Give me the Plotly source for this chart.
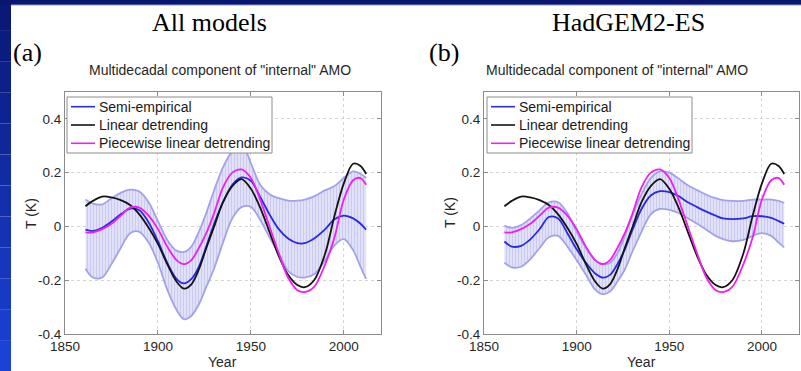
import plotly.graph_objects as go

# ---------------- data ----------------
years = [1861, 1865, 1870, 1875, 1880, 1885, 1890, 1895, 1900, 1905, 1910, 1914,
         1918, 1922, 1926, 1930, 1935, 1940, 1945, 1950, 1955, 1960, 1965, 1970,
         1975, 1979, 1984, 1990, 1995, 2000, 2005, 2009, 2012]

linear_detrending = [0.075, 0.095, 0.111, 0.108, 0.098, 0.080, 0.045, -0.005, -0.065, -0.140,
                     -0.205, -0.231, -0.215, -0.160, -0.080, -0.005, 0.090, 0.150, 0.176, 0.140,
                     0.070, -0.020, -0.110, -0.180, -0.218, -0.226, -0.200, -0.100, 0.040, 0.160,
                     0.233, 0.225, 0.195]

piecewise_detrending = [-0.022, -0.022, -0.010, 0.010, 0.040, 0.070, 0.070, 0.040, -0.010, -0.075,
                        -0.125, -0.140, -0.125, -0.080, -0.025, 0.045, 0.145, 0.200, 0.212, 0.180,
                        0.100, 0.000, -0.100, -0.190, -0.237, -0.244, -0.225, -0.140, -0.040, 0.100,
                        0.172, 0.180, 0.155]

semi_all = [-0.012, -0.017, -0.005, 0.018, 0.045, 0.066, 0.060, 0.015, -0.055, -0.135,
            -0.195, -0.212, -0.195, -0.150, -0.075, 0.005, 0.090, 0.155, 0.182, 0.170,
            0.110, 0.045, -0.010, -0.045, -0.062, -0.062, -0.045, -0.010, 0.027, 0.040,
            0.030, 0.010, -0.012]
semi_all_upper = [0.100, 0.085, 0.082, 0.105, 0.125, 0.137, 0.130, 0.090, 0.020, -0.050,
                  -0.090, -0.095, -0.075, -0.020, 0.050, 0.130, 0.220, 0.280, 0.310, 0.235,
                  0.155, 0.120, 0.105, 0.096, 0.096, 0.100, 0.112, 0.135, 0.150, 0.180,
                  0.205, 0.195, 0.180]
semi_all_lower = [-0.157, -0.190, -0.190, -0.140, -0.080, -0.025, -0.020, -0.060, -0.135, -0.235,
                  -0.310, -0.345, -0.332, -0.290, -0.225, -0.160, -0.060, 0.030, 0.072, 0.073,
                  0.025, -0.040, -0.100, -0.165, -0.188, -0.190, -0.178, -0.125, -0.070, -0.047,
                  -0.088, -0.150, -0.195]

semi_had = [-0.056, -0.075, -0.072, -0.048, -0.010, 0.035, 0.030, -0.025, -0.085, -0.135,
            -0.175, -0.190, -0.180, -0.140, -0.085, -0.015, 0.065, 0.115, 0.131, 0.128,
            0.113, 0.090, 0.072, 0.055, 0.040, 0.030, 0.027, 0.030, 0.038, 0.038,
            0.032, 0.020, 0.010]
semi_had_upper = [0.003, -0.005, 0.005, 0.030, 0.060, 0.090, 0.090, 0.050, -0.020, -0.080,
                  -0.125, -0.140, -0.135, -0.100, -0.035, 0.040, 0.120, 0.180, 0.205, 0.200,
                  0.178, 0.153, 0.135, 0.118, 0.105, 0.098, 0.095, 0.095, 0.100, 0.100,
                  0.100, 0.095, 0.088]
semi_had_lower = [-0.135, -0.152, -0.150, -0.122, -0.080, -0.040, -0.035, -0.075, -0.125, -0.180,
                  -0.235, -0.252, -0.242, -0.205, -0.160, -0.095, -0.020, 0.045, 0.065, 0.062,
                  0.050, 0.030, 0.010, -0.012, -0.035, -0.047, -0.055, -0.050, -0.035, -0.025,
                  -0.035, -0.060, -0.078]

series_names = ["Semi-empirical", "Linear detrending", "Piecewise linear detrending"]
panel_titles = ["All models", "HadGEM2-ES"]
panel_letters = ["(a)", "(b)"]
subtitle = 'Multidecadal component of "internal" AMO'
x_title = "Year"
y_title = "T (K)"

x_ticks = [1850, 1900, 1950, 2000]
x_tick_labels = ["1850", "1900", "1950", "2000"]
y_ticks = [-0.4, -0.2, 0, 0.2, 0.4]
y_tick_labels = ["-0.4", "-0.2", "0", "0.2", "0.4"]

# ---------------- layout helpers ----------------
W, H = 801, 371
def fx(p):
    return p / W
def fy(p):
    return 1 - p / H

BLUE = "#2a2ae6"
BLACK = "#141414"
MAGENTA = "#f01ef0"
BAND_EDGE = "#a2a2ea"
SANS = "Liberation Sans, Arial, sans-serif"
SERIF = "Liberation Serif, Times New Roman, serif"
TXT = "#262626"
COLORS = [BLUE, BLACK, MAGENTA]

fig = go.Figure()

panels = [
    dict(xa="x", ya="y", mid=semi_all, up=semi_all_upper, lo=semi_all_lower, dx=0),
    dict(xa="x2", ya="y2", mid=semi_had, up=semi_had_upper, lo=semi_had_lower, dx=420),
]

for p in panels:
    fig.add_trace(go.Scatter(
        x=years, y=p["up"], xaxis=p["xa"], yaxis=p["ya"], mode="lines",
        line=dict(color=BAND_EDGE, width=1.8, shape="spline", smoothing=0.9),
        showlegend=False, hoverinfo="skip"))
    fig.add_trace(go.Scatter(
        x=years, y=p["lo"], xaxis=p["xa"], yaxis=p["ya"], mode="lines",
        line=dict(color=BAND_EDGE, width=1.8, shape="spline", smoothing=0.9),
        fill="tonexty",
        fillpattern=dict(shape="|", fgcolor="#acacea", bgcolor="#e6e6f8", size=3, solidity=0.45),
        showlegend=False, hoverinfo="skip"))
    for name, yy, col in zip(series_names, [p["mid"], linear_detrending, piecewise_detrending], COLORS):
        fig.add_trace(go.Scatter(
            x=years, y=yy, xaxis=p["xa"], yaxis=p["ya"], mode="lines", name=name,
            showlegend=False,
            line=dict(color=col, width=1.8, shape="spline", smoothing=0.9)))

def axis_common():
    return dict(
        ticks="inside", ticklen=4, tickcolor="#8c8c8c", showline=True, linecolor="#8c8c8c",
        linewidth=1, mirror="ticks", showgrid=True, gridcolor="#d4d4d4", griddash="dot",
        gridwidth=1, zeroline=False, automargin=False,
        tickfont=dict(family=SANS, size=13.5, color=TXT))

def xaxis_cfg(domain, anchor):
    d = axis_common()
    d.update(domain=domain, anchor=anchor, range=[1850, 2020],
             tickvals=x_ticks, ticktext=x_tick_labels)
    return d

def yaxis_cfg(anchor):
    d = axis_common()
    d.update(domain=[fy(334), fy(92)], anchor=anchor, range=[-0.4, 0.5],
             tickvals=y_ticks, ticktext=y_tick_labels)
    return d

fig.update_layout(
    width=W, height=H, margin=dict(l=0, r=0, t=0, b=0),
    paper_bgcolor="white", plot_bgcolor="white",
    xaxis=xaxis_cfg([fx(65), fx(381)], "y"),
    yaxis=yaxis_cfg("x"),
    xaxis2=xaxis_cfg([fx(484), fx(799)], "y2"),
    yaxis2=yaxis_cfg("x2"),
    showlegend=False,
)

# frame of the slide (blue border on left and top)
shapes = []
n = 12
c0 = (10, 24, 120)
c1 = (26, 66, 214)
for i in range(n):
    t = i / (n - 1)
    col = "rgb(%d,%d,%d)" % tuple(round(a + (b - a) * t) for a, b in zip(c0, c1))
    shapes.append(dict(type="rect", xref="paper", yref="paper", x0=0, x1=fx(11),
                       y0=1 - (i + 1) / n, y1=1 - i / n, fillcolor=col, line=dict(width=0)))
shapes.append(dict(type="rect", xref="paper", yref="paper", x0=0, x1=1, y0=fy(5), y1=1,
                   fillcolor="rgb(8,22,110)", line=dict(width=0)))
shapes.append(dict(type="line", xref="paper", yref="paper", x0=fx(11), x1=1, y0=fy(5), y1=fy(5),
                   line=dict(color="#8c9ad0", width=1)))

ann = []
# legends (one per panel), drawn as a boxed key
row_y = [106.7, 125.0, 143.3]
for p in panels:
    dx = p["dx"]
    shapes.append(dict(type="rect", xref="paper", yref="paper",
                       x0=fx(67 + dx), x1=fx(272 + dx), y0=fy(153), y1=fy(97),
                       fillcolor="white", line=dict(color="#8c8c8c", width=1)))
    for name, col, ry in zip(series_names, COLORS, row_y):
        shapes.append(dict(type="line", xref="paper", yref="paper",
                           x0=fx(71 + dx), x1=fx(95 + dx), y0=fy(ry), y1=fy(ry),
                           line=dict(color=col, width=1.6)))
        ann.append(dict(text=name, x=fx(97 + dx), y=fy(ry), xref="paper", yref="paper",
                        xanchor="left", yanchor="middle", showarrow=False,
                        font=dict(family=SANS, size=14, color="#1a1a1a")))
fig.update_layout(shapes=shapes)

for cx, title in zip([210, 628], panel_titles):
    ann.append(dict(text=title, x=fx(cx), y=fy(23), xref="paper", yref="paper",
                    xanchor="center", yanchor="middle", showarrow=False,
                    font=dict(family=SERIF, size=26, color="black")))
for lx, letter in zip([11, 427], panel_letters):
    ann.append(dict(text=letter, x=fx(lx), y=fy(53), xref="paper", yref="paper",
                    xanchor="left", yanchor="middle", showarrow=False,
                    font=dict(family=SERIF, size=26, color="black")))
for cx in [220, 617]:
    ann.append(dict(text=subtitle, x=fx(cx), y=fy(70), xref="paper", yref="paper",
                    xanchor="center", yanchor="middle", showarrow=False,
                    font=dict(family=SANS, size=14, color=TXT)))
for cx in [222, 641]:
    ann.append(dict(text=x_title, x=fx(cx), y=fy(362), xref="paper", yref="paper",
                    xanchor="center", yanchor="middle", showarrow=False,
                    font=dict(family=SANS, size=14, color=TXT)))
for cx in [31, 450]:
    ann.append(dict(text=y_title, x=fx(cx), y=fy(213), xref="paper", yref="paper",
                    xanchor="center", yanchor="middle", showarrow=False, textangle=-90,
                    font=dict(family=SANS, size=14, color=TXT)))
fig.update_layout(annotations=ann)

fig.write_html("out.html",
               config={"displayModeBar": False},
               post_script="document.body.style.margin='0';document.body.style.overflow='hidden';")
